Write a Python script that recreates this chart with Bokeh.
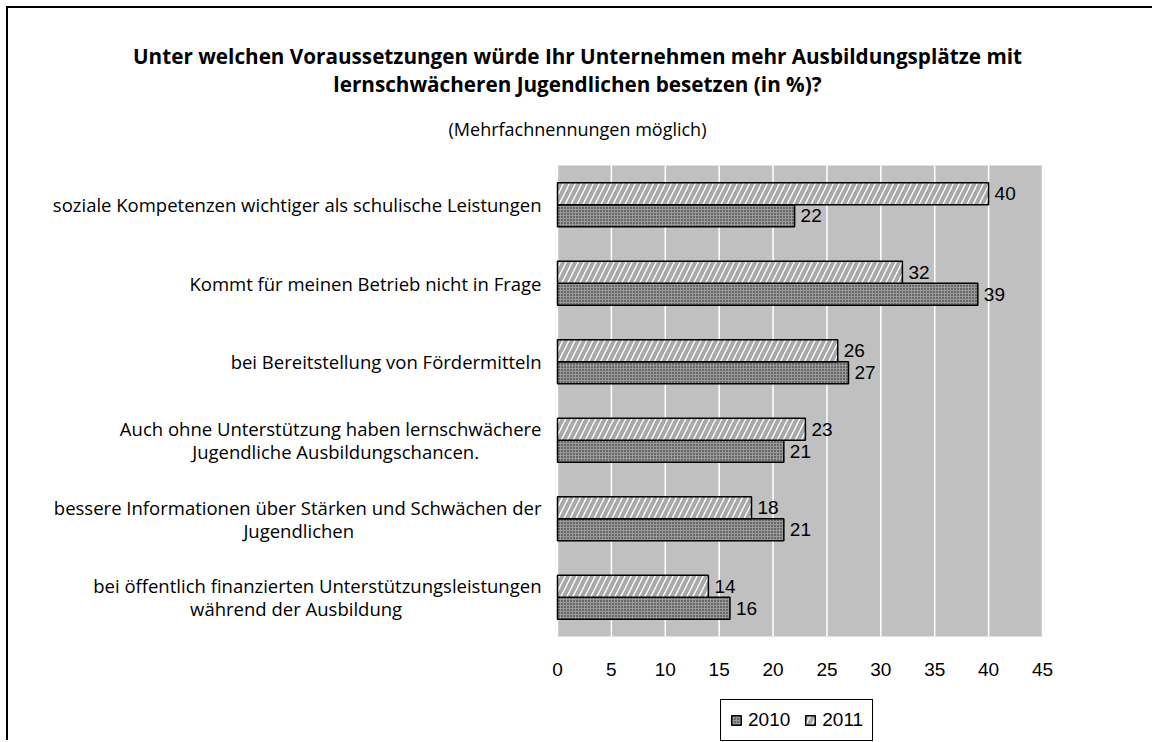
from bokeh.plotting import figure
from bokeh.models import (Range1d, LabelSet, Label, ColumnDataSource,
                          Legend, LegendItem, InlineStyleSheet)
from bokeh.transform import dodge
from bokeh.embed import file_html
from bokeh.resources import INLINE
from bokeh.core.properties import value

# ---------------- data ----------------
categories = [
    "soziale Kompetenzen wichtiger als schulische Leistungen",
    "Kommt für meinen Betrieb nicht in Frage",
    "bei Bereitstellung von Fördermitteln",
    "Auch ohne Unterstützung haben lernschwächere Jugendliche Ausbildungschancen.",
    "bessere Informationen über Stärken und Schwächen der Jugendlichen",
    "bei öffentlich finanzierten Unterstützungsleistungen während der Ausbildung",
]
category_lines = [
    ["soziale Kompetenzen wichtiger als schulische Leistungen"],
    ["Kommt für meinen Betrieb nicht in Frage"],
    ["bei Bereitstellung von Fördermitteln"],
    ["Auch ohne Unterstützung haben lernschwächere", "Jugendliche Ausbildungschancen."],
    ["bessere Informationen über Stärken und Schwächen der", "Jugendlichen"],
    ["bei öffentlich finanzierten Unterstützungsleistungen", "während der Ausbildung"],
]
values_2010 = [22, 39, 27, 21, 21, 16]
values_2011 = [40, 32, 26, 23, 18, 14]
series_names = ["2010", "2011"]
x_ticks = [0, 5, 10, 15, 20, 25, 30, 35, 40, 45]
title_lines = [
    "Unter welchen Voraussetzungen würde Ihr Unternehmen mehr Ausbildungsplätze mit",
    "lernschwächeren Jugendlichen besetzen (in %)?",
]
subtitle = "(Mehrfachnennungen möglich)"

# ---------------- layout (page pixels) ----------------
W, H = 1146, 734            # figure size; placed at page (8, 8)
PAGE_X0, PAGE_Y0 = 8, 8
PLOT_L, PLOT_R = 557, 1042  # grey plot area, page x
PLOT_T, PLOT_B = 165, 636   # grey plot area, page y
n = len(categories)
xmax = x_ticks[-1]
kx = (PLOT_R - PLOT_L) / xmax
ky = (PLOT_B - PLOT_T) / n


def fx(px):
    return (px - PLOT_L) / kx


def fy(py):
    return (PLOT_B - py) / ky


slot = [n - 0.5 - i for i in range(n)]   # first category on top

source = ColumnDataSource(dict(
    cat=categories, pos=slot,
    v2010=values_2010, v2011=values_2011,
    t2010=[str(v) for v in values_2010],
    t2011=[str(v) for v in values_2011],
))

p = figure(
    width=W, height=H,
    x_range=Range1d(fx(PAGE_X0), fx(PAGE_X0 + W)),
    y_range=Range1d(fy(PAGE_Y0 + H), fy(PAGE_Y0)),
    x_axis_location=None, y_axis_location=None,
    output_backend="svg", toolbar_location=None,
    min_border=0, min_border_left=0, min_border_right=0,
    min_border_top=0, min_border_bottom=0,
)
p.stylesheets = [InlineStyleSheet(css=":host { position: relative; left: 8px; top: 8px; "
                                      "box-shadow: -2px -2px 0 0 #000; }")]
p.background_fill_color = "white"
p.border_fill_color = "white"
p.outline_line_color = None
p.grid.visible = False
p.grid.grid_line_color = None

# grey plot area and white vertical grid lines
p.quad(left=[0], right=[xmax], bottom=[0], top=[n],
       fill_color="#c0c0c0", line_color=None)
p.segment(x0=x_ticks, x1=x_ticks, y0=[0] * len(x_ticks), y1=[n] * len(x_ticks),
          line_color="white", line_width=1.5)

bh = 0.28
r2010 = p.hbar(y=dodge("pos", -bh / 2), right="v2010", left=0,
               height=bh, source=source,
               fill_color="#9a9a9a", hatch_pattern="dot", hatch_color="#1a1a1a",
               hatch_scale=3, hatch_weight=1,
               line_color="black", line_width=1.5)
r2011 = p.hbar(y=dodge("pos", bh / 2), right="v2011", left=0,
               height=bh, source=source,
               fill_color="white", hatch_pattern="right_diagonal_line",
               hatch_color="#a8a8a8", hatch_scale=12, hatch_weight=4,
               line_color="black", line_width=1.5)

# value labels
for col, off in (("2010", -bh / 2), ("2011", bh / 2)):
    p.add_layout(LabelSet(
        x="v" + col, y=dodge("pos", off), text="t" + col,
        source=source, x_offset=6, text_baseline="middle", text_align="left",
        text_font=value("Liberation Sans"), text_font_size="19px", text_color="black",
    ))

# x tick labels
tick_src = ColumnDataSource(dict(x=x_ticks, y=[0] * len(x_ticks),
                                 t=[str(t) for t in x_ticks]))
p.add_layout(LabelSet(x="x", y="y", text="t", source=tick_src, y_offset=-33,
                      text_align="center", text_baseline="middle",
                      text_font=value("Liberation Sans"), text_font_size="19px",
                      text_color="black"))

# category labels (two-line labels: one label per line, second line centred by padding)
line_half = 0.147
NBSP = "\u00a0"
lab_y, lab_t = [], []
for c, lines in zip(slot, category_lines):
    if len(lines) == 1:
        lab_y.append(c)
        lab_t.append(lines[0])
    else:
        pad = max(0, round((len(lines[0]) - len(lines[1])) * 0.98))
        lab_y += [c + line_half, c - line_half]
        lab_t += [lines[0], lines[1] + NBSP * pad]
cat_src = ColumnDataSource(dict(x=[0] * len(lab_y), y=lab_y, t=lab_t))
p.add_layout(LabelSet(x="x", y="y", text="t", source=cat_src, x_offset=-16,
                      text_align="right", text_baseline="middle",
                      text_font=value("Open Sans"), text_font_size="18.5px",
                      text_color="black"))

# titles
cx = fx(577)
p.add_layout(Label(x=cx, y=fy(55), text=title_lines[0], text_align="center",
                   text_baseline="alphabetic", text_font="Open Sans",
                   text_font_style="bold", text_font_size="20.7px", text_color="black"))
p.add_layout(Label(x=cx, y=fy(83), text=title_lines[1], text_align="center",
                   text_baseline="alphabetic", text_font="Open Sans",
                   text_font_style="bold", text_font_size="20.7px", text_color="black"))
p.add_layout(Label(x=cx, y=fy(128), text=subtitle, text_align="center",
                   text_baseline="alphabetic", text_font="Open Sans",
                   text_font_size="18px", text_color="black"))

# legend (location in pixels from the canvas bottom-left)
legend = Legend(
    items=[LegendItem(label=series_names[0], renderers=[r2010]),
           LegendItem(label=series_names[1], renderers=[r2011])],
    orientation="horizontal", location=(720 - PAGE_X0, 1),
    label_text_font="Liberation Sans", label_text_font_size="19px",
    label_text_color="black",
    glyph_width=12, glyph_height=12, label_standoff=6, spacing=14,
    padding=9, margin=0,
    border_line_color="black", border_line_width=1, border_line_alpha=1,
    background_fill_color="white", background_fill_alpha=1,
)
p.add_layout(legend, "center")

open("out.html", "w").write(file_html(p, INLINE))
